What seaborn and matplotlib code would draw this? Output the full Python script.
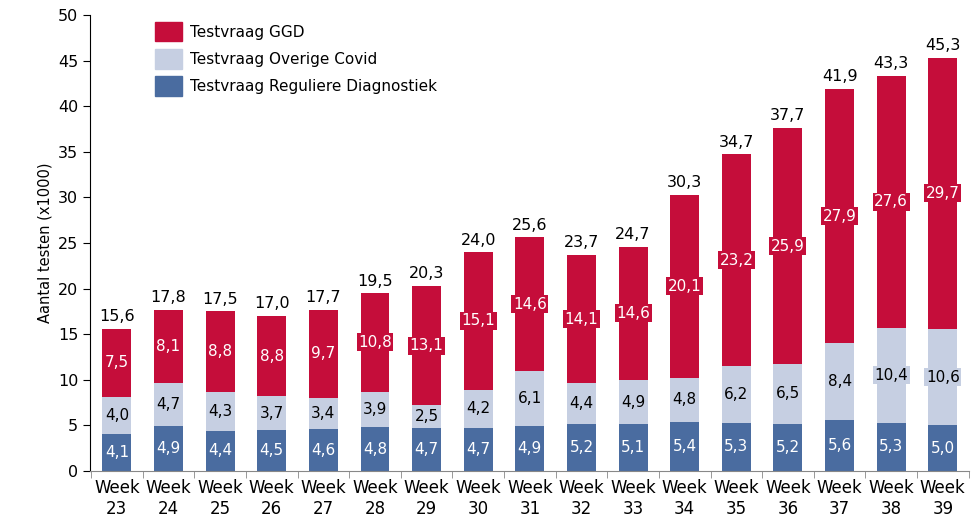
import numpy as np
import pandas as pd
import matplotlib
matplotlib.use("Agg")
import matplotlib.pyplot as plt
import seaborn as sns
from matplotlib.patches import Patch

# data (x1000 tests per week)
weeks = [f"Week\n{w}" for w in range(23, 40)]
regulier = [4.1, 4.9, 4.4, 4.5, 4.6, 4.8, 4.7, 4.7, 4.9, 5.2, 5.1, 5.4, 5.3, 5.2, 5.6, 5.3, 5.0]
overig = [4.0, 4.7, 4.3, 3.7, 3.4, 3.9, 2.5, 4.2, 6.1, 4.4, 4.9, 4.8, 6.2, 6.5, 8.4, 10.4, 10.6]
ggd = [7.5, 8.1, 8.8, 8.8, 9.7, 10.8, 13.1, 15.1, 14.6, 14.1, 14.6, 20.1, 23.2, 25.9, 27.9, 27.6, 29.7]
totaal = [15.6, 17.8, 17.5, 17.0, 17.7, 19.5, 20.3, 24.0, 25.6, 23.7, 24.7, 30.3, 34.7, 37.7, 41.9, 43.3, 45.3]

rood = "#C50D3A"
lichtblauw = "#C6CFE2"
donkerblauw = "#4A6CA0"

df = pd.DataFrame({"week": weeks, "reg": regulier, "ov": overig, "ggd": ggd, "tot": totaal})
df["reg_ov"] = df["reg"] + df["ov"]
df["som"] = df["reg_ov"] + df["ggd"]

sns.set_style("white")
plt.rcParams["font.family"] = ["DejaVu Sans"]
for k in ["text.color", "axes.labelcolor", "xtick.color", "ytick.color"]:
    plt.rcParams[k] = "black"

fig = plt.figure(figsize=(9.73, 5.26), dpi=100)
ax = fig.add_axes([0.0925, 0.1046, 0.903, 0.867])

# stacked bars: draw cumulative heights from top layer down
for col, kleur in [("som", rood), ("reg_ov", lichtblauw), ("reg", donkerblauw)]:
    sns.barplot(data=df, x="week", y=col, color=kleur, width=0.56, saturation=1,
                linewidth=0, ax=ax)

fs = 11
for i, r in df.iterrows():
    ax.text(i, r["reg"] / 2, f"{r['reg']:.1f}".replace(".", ","), ha="center", va="center",
            color="white", fontsize=fs)
    ax.text(i, r["reg"] + r["ov"] / 2, f"{r['ov']:.1f}".replace(".", ","), ha="center", va="center",
            color="black", fontsize=fs,
            bbox=dict(boxstyle="square,pad=0.1", fc=lichtblauw, ec="none"))
    ax.text(i, r["reg_ov"] + r["ggd"] / 2, f"{r['ggd']:.1f}".replace(".", ","), ha="center", va="center",
            color="white", fontsize=fs,
            bbox=dict(boxstyle="square,pad=0.1", fc=rood, ec="none"))
    ax.text(i, r["som"] + 0.5, f"{r['tot']:.1f}".replace(".", ","), ha="center", va="bottom",
            color="black", fontsize=fs + 0.5)

ax.set_xlim(-0.52, 16.5)
ax.set_ylim(0, 50)
ax.set_yticks(range(0, 51, 5))
ax.set_xlabel("")
ax.set_ylabel("Aantal testen (x1000)", fontsize=10.5)

sns.despine(ax=ax)
ax.spines["left"].set_color("black")
ax.spines["bottom"].set_color("#888888")
ax.tick_params(axis="y", which="major", left=True, length=5, labelsize=11.5, color="black")
ax.tick_params(axis="x", which="major", length=0, labelsize=12, pad=6)
ax.set_xticks(np.arange(-0.5, 16.6, 1), minor=True)
ax.tick_params(axis="x", which="minor", bottom=True, length=5, color="#888888")

handles = [Patch(color=rood, label="Testvraag GGD"),
           Patch(color=lichtblauw, label="Testvraag Overige Covid"),
           Patch(color=donkerblauw, label="Testvraag Reguliere Diagnostiek")]
ax.legend(handles=handles, loc="upper left", bbox_to_anchor=(0.058, 1.015), frameon=False,
          fontsize=11, handlelength=1.8, handleheight=1.6, labelspacing=0.5, handletextpad=0.5)

fig.savefig("out.png", dpi=100)
